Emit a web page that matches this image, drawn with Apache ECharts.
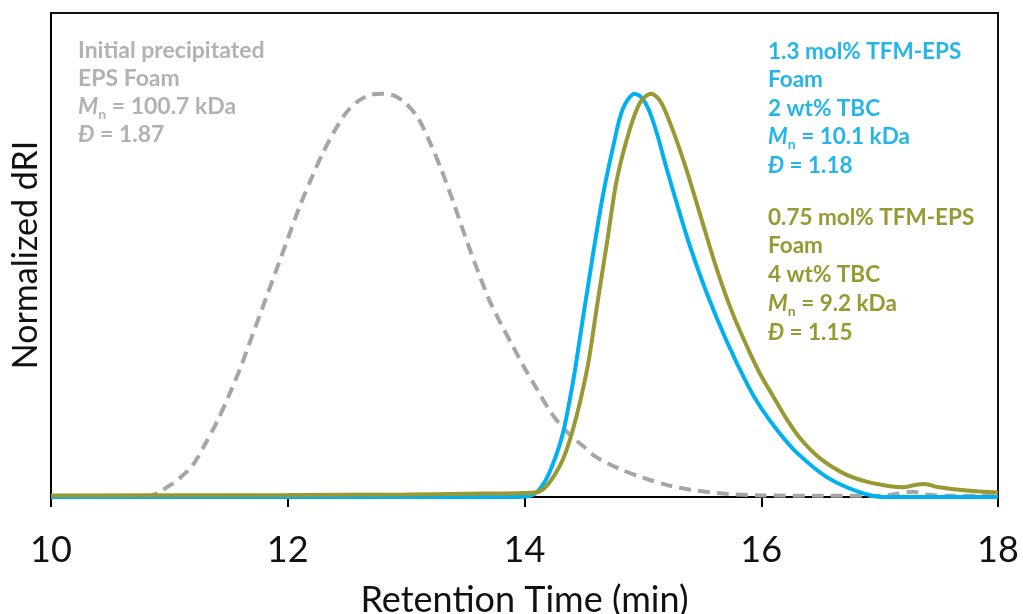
<!DOCTYPE html>
<html><head><meta charset="utf-8">
<script src="https://cdn.jsdelivr.net/npm/echarts@6/dist/echarts.min.js"></script>
<style>html,body{margin:0;padding:0;background:#fff}#c{width:1023px;height:614px}</style>
</head><body><div id="c"></div>
<script>
// Retention time (min) / normalized dRI
const grayT = [10.0,10.8,10.9,11.0,11.1,11.2,11.3,11.4,11.5,11.6,11.7,11.8,11.9,12.0,12.1,12.2,12.3,12.4,12.5,12.6,12.7,12.8,12.9,13.0,13.1,13.2,13.3,13.4,13.5,13.6,13.7,13.8,13.9,14.0,14.1,14.2,14.3,14.4,14.5,14.6,14.8,15.0,15.2,15.4,15.7,16.0,16.5,17.0,17.15,17.28,17.4,17.6,18.0];
const grayV = [0,0,0.01,0.028,0.05,0.08,0.13,0.185,0.25,0.32,0.40,0.48,0.56,0.64,0.72,0.79,0.855,0.91,0.955,0.983,0.997,1.0,0.995,0.975,0.94,0.88,0.81,0.73,0.645,0.565,0.49,0.43,0.375,0.32,0.27,0.22,0.18,0.15,0.125,0.10,0.07,0.048,0.03,0.018,0.008,0.004,0.003,0.003,0.008,0.013,0.006,0.003,0.003];

const blueT = [10.0,13.9,14.05,14.13,14.21,14.32,14.41,14.49,14.58,14.66,14.75,14.83,14.93,14.99,15.05,15.12,15.2,15.3,15.4,15.54,15.71,15.89,16.0,16.15,16.3,16.55,16.83,17.03,18.0];
const blueV = [0,0,0.003,0.02,0.06,0.153,0.286,0.436,0.604,0.744,0.87,0.962,1.0,0.99,0.96,0.9,0.815,0.715,0.62,0.505,0.385,0.275,0.22,0.16,0.11,0.05,0.012,0,0];

const oliveT = [10.0,12.0,13.0,13.5,14.0,14.13,14.30,14.41,14.53,14.61,14.70,14.78,14.89,14.98,15.07,15.15,15.25,15.37,15.48,15.62,15.76,15.90,16.0,16.1,16.2,16.33,16.5,16.7,16.89,17.1,17.2,17.3,17.38,17.5,17.74,18.0];
const oliveV = [0.004,0.005,0.006,0.008,0.01,0.014,0.078,0.168,0.318,0.469,0.637,0.787,0.912,0.98,1.0,0.98,0.912,0.81,0.704,0.569,0.454,0.36,0.30,0.25,0.20,0.145,0.095,0.058,0.038,0.026,0.024,0.03,0.032,0.024,0.016,0.011];

const xTicks = [10,12,14,16,18];
const xTitle = 'Retention Time (min)';
const yTitle = 'Normalized dRI';

const grayText = ['Initial precipitated','EPS Foam','{i|M}{s|n} = 100.7 kDa','{i|Đ} = 1.87'];
const blueText = ['1.3 mol% TFM-EPS','Foam','2 wt% TBC','{i|M}{s|n} = 10.1 kDa','{i|Đ} = 1.18'];
const oliveText = ['0.75 mol% TFM-EPS','Foam','4 wt% TBC','{i|M}{s|n} = 9.2 kDa','{i|Đ} = 1.15'];

const zip = (a,b)=>a.map((x,i)=>[x,b[i]]);
const C_GRAY='#a6a6a6', C_BLUE='#00b0f0', C_OLIVE='#999933';
function rich(color,fs,lh){
  return {
    i:{fontStyle:'italic',fontWeight:'bold',fontFamily:'Lato',fontSize:fs,color:color,lineHeight:lh},
    s:{fontWeight:'bold',fontFamily:'Lato',fontSize:Math.round(fs*0.62),color:color,lineHeight:11,verticalAlign:'bottom'}
  };
}
function block(lines,x,y,color,fs,lh){
  return {type:'text',left:x,top:y,z:10,style:{text:lines.join('\n'),fill:color,font:'bold '+fs+'px Lato',lineHeight:lh,rich:rich(color,fs,lh)}};
}
const chart = echarts.init(document.getElementById('c'),null,{renderer:'canvas'});
chart.setOption({
  animation:false,
  backgroundColor:'#fff',
  grid:{left:51,right:25,top:13,bottom:117,show:true,borderColor:'#111',borderWidth:2,containLabel:false,outerBoundsMode:'none'},
  xAxis:{type:'value',min:10,max:18,interval:2,
    axisLine:{show:true,lineStyle:{color:'#000',width:2}},
    axisTick:{show:true,inside:false,length:10,lineStyle:{color:'#000',width:2}},
    axisLabel:{fontSize:36,fontFamily:'Lato',color:'#111',margin:35,formatter:v=>xTicks.includes(v)?String(v):''},
    splitLine:{show:false},
    name:xTitle,nameLocation:'middle',nameGap:85,nameTextStyle:{fontSize:36,fontFamily:'Lato',color:'#111'}},
  yAxis:{type:'value',min:0,max:1.2,
    axisLine:{show:true,lineStyle:{color:'#000',width:2}},
    axisTick:{show:false},axisLabel:{show:false},splitLine:{show:false},
    name:yTitle,nameLocation:'middle',nameGap:8,nameTextStyle:{fontSize:34,fontFamily:'Lato',color:'#111'}},
  series:[
    {type:'line',data:zip(grayT,grayV),showSymbol:false,smooth:0.3,lineStyle:{color:C_GRAY,width:4,type:[12,7]},z:3},
    {type:'line',data:zip(blueT,blueV),showSymbol:false,smooth:0.3,lineStyle:{color:C_BLUE,width:4},z:4},
    {type:'line',data:zip(oliveT,oliveV),showSymbol:false,smooth:0.3,lineStyle:{color:C_OLIVE,width:4},z:5}
  ],
  graphic:[
    block(grayText,78,37,'#b2b2b2',23,28),
    block(blueText,768,37,'#25b5ea',22.5,28.6),
    block(oliveText,768,203,'#999933',22.5,28.75)
  ]
});
</script></body></html>
